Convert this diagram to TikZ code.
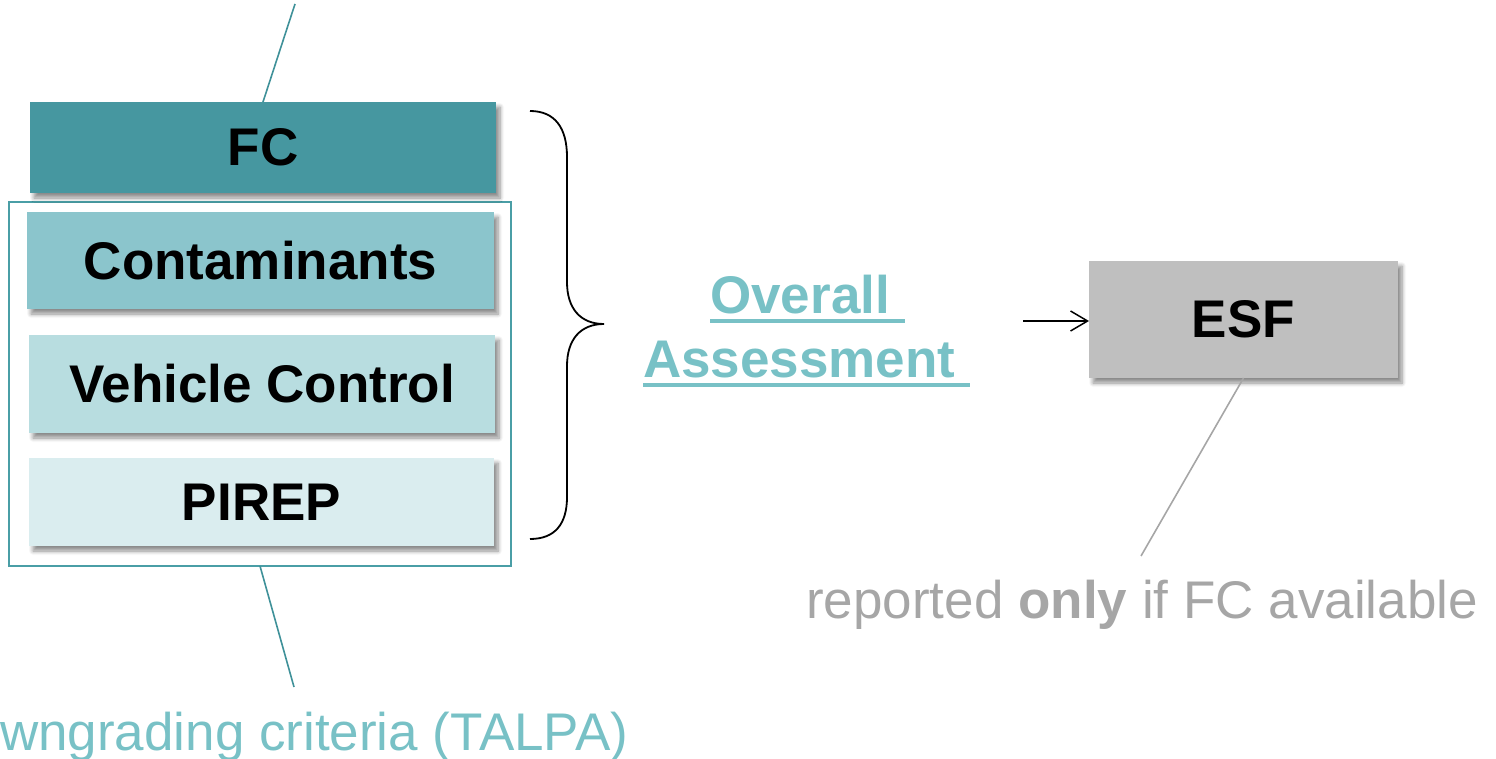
\documentclass[tikz,border=0pt]{standalone}
\usepackage{fontspec}
\setmainfont{Liberation Sans}
\usetikzlibrary{shadows.blur,arrows.meta}
\definecolor{fcfill}{HTML}{4697A0}
\definecolor{cofill}{HTML}{8BC5CC}
\definecolor{vcfill}{HTML}{B8DDE0}
\definecolor{pifill}{HTML}{DAEDEF}
\definecolor{framecol}{HTML}{4A9EA6}
\definecolor{tealline}{HTML}{3F9199}
\definecolor{ovcol}{HTML}{78C1C6}
\definecolor{esffill}{HTML}{BFBFBF}
\definecolor{greytext}{HTML}{A6A6A6}
\begin{document}
\begin{tikzpicture}[x=1pt,y=-1pt,
  box/.style={rectangle, inner sep=0pt, outer sep=0pt,
    font=\fontsize{53}{64}\selectfont\bfseries, text=black,
    blur shadow={shadow xshift=4pt, shadow yshift=-5pt, shadow blur radius=4pt, shadow blur steps=6, shadow opacity=45}},
  ovtext/.style={inner sep=0pt, outer sep=0pt, font=\fontsize{53}{64}\selectfont\bfseries, text=ovcol},
  ovline/.style={draw=ovcol, line width=4.5pt},
  note/.style={inner sep=0pt, outer sep=0pt, font=\fontsize{53}{64}\selectfont},
  tealconn/.style={draw=tealline, line width=1.6pt},
  greyconn/.style={draw=greytext, line width=1.6pt},
]
\useasboundingbox (0,0) rectangle (1496,759);

% frame around downgrading criteria
\node[draw=framecol, line width=1.6pt, minimum width=502pt, minimum height=364pt, inner sep=0pt, outer sep=0pt] (frame) at (260,384) {};

% boxes
\node[box, fill=fcfill, minimum width=466pt, minimum height=91pt] (fc) at (263,147.5) {\raisebox{-2pt}{FC}};
\node[box, fill=cofill, minimum width=467pt, minimum height=97pt] (cont) at (260.5,260.5) {Contaminants};
\node[box, fill=vcfill, minimum width=466pt, minimum height=98pt] (vc) at (262,384) {Vehicle Control};
\node[box, fill=pifill, minimum width=465pt, minimum height=88pt] (pirep) at (261.5,502) {PIREP};
\node[box, fill=esffill, minimum width=309pt, minimum height=117pt] (esf) at (1243.5,319.5) {ESF};

% brace
\coordinate (bracetip) at (604,324);
\draw[black, line width=1.8pt] (530,111) .. controls (555,111) and (567,128) .. (567,157) -- (567,282)
  .. controls (567,308) and (580,324) .. (bracetip)
  .. controls (580,324) and (567,340) .. (567,366) -- (567,497)
  .. controls (567,524) and (555,539) .. (530,539);

% overall assessment
\node[ovtext, anchor=base] (ov1) at (807.5,313) {Overall\kern14.7pt};
\node[ovtext, anchor=base] (ov2) at (806.5,377) {Assessment\kern14.7pt};
\draw[ovline] ([yshift=-8pt]ov1.base west) -- ([yshift=-8pt]ov1.base east);
\draw[ovline] ([yshift=-8pt]ov2.base west) -- ([yshift=-8pt]ov2.base east);

% arrow
\coordinate (arrstart) at (1023,321);
\draw[black, line width=1.5pt, -{Straight Barb[length=17pt, width=20pt, line width=1.5pt]}] (arrstart) -- (esf.west |- arrstart);

% top teal connector
\coordinate (topend) at (295,4);
\draw[tealconn] (topend) -- (fc.north);

% bottom teal connector and label
\coordinate (botend) at (294,687);
\draw[tealconn] (frame.south) -- (botend);
\node[note, text=ovcol, anchor=base west] (dg) at (0,750) {wngrading criteria (TALPA)};

% ESF note
\coordinate (esfend) at (1141,556);
\draw[greyconn] (esf.south) -- (esfend);
\node[note, text=greytext, anchor=base] (rep) at (1142,618) {reported \textbf{only} if FC available};
\end{tikzpicture}
\end{document}
